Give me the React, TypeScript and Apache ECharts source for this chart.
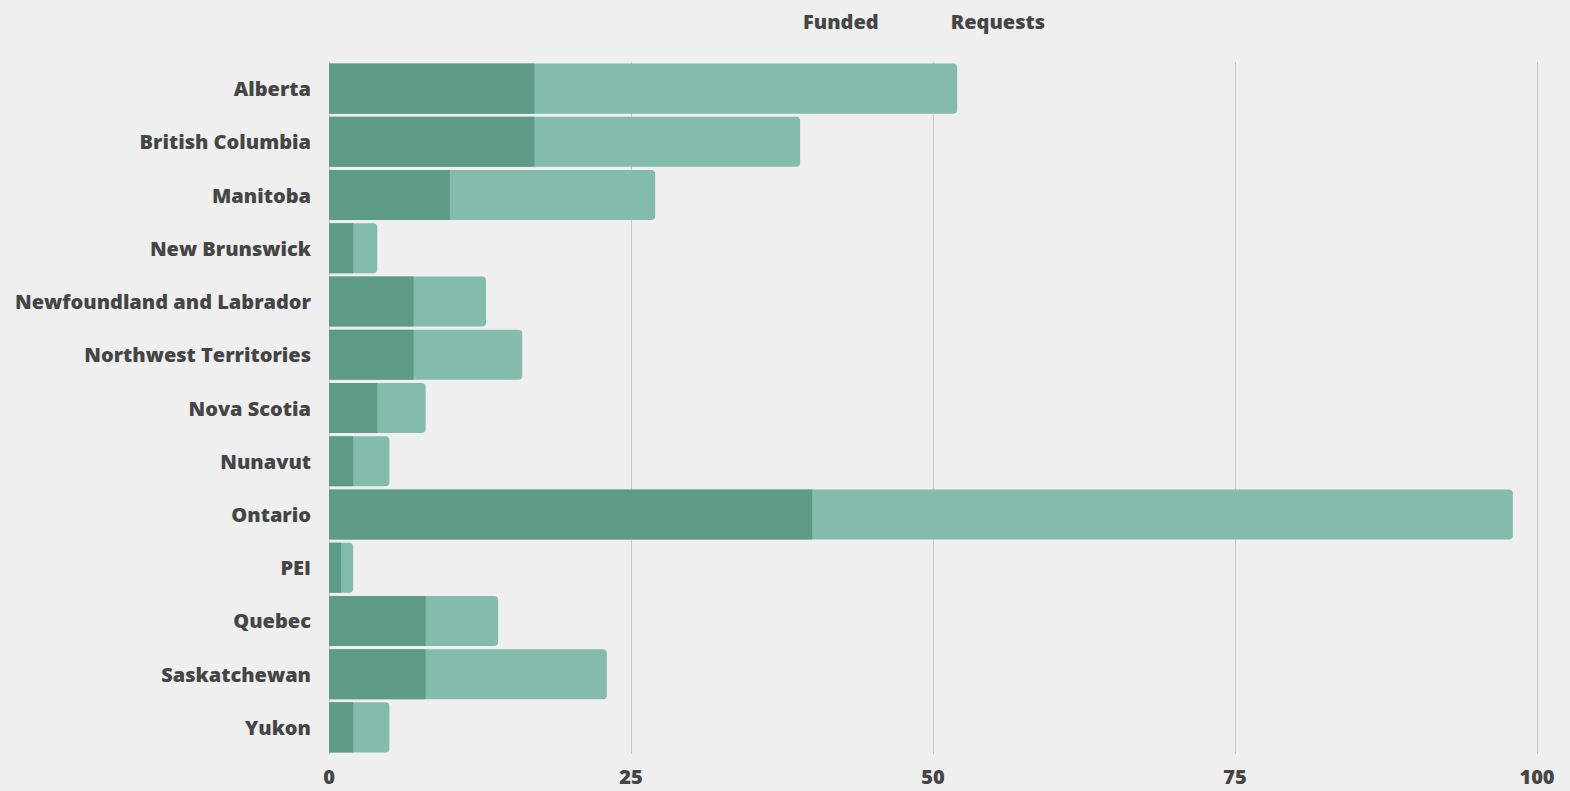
import React, { useEffect, useRef } from "react";
import * as echarts from "echarts";

const categories = [
  "Alberta",
  "British Columbia",
  "Manitoba",
  "New Brunswick",
  "Newfoundland and Labrador",
  "Northwest Territories",
  "Nova Scotia",
  "Nunavut",
  "Ontario",
  "PEI",
  "Quebec",
  "Saskatchewan",
  "Yukon",
];
const funded = [17, 17, 10, 2, 7, 7, 4, 2, 40, 1, 8, 8, 2];
const requests = [52, 39, 27, 4, 13, 16, 8, 5, 98, 2, 14, 23, 5];
const xTicks = [0, 25, 50, 75, 100];

const FONT = "'Open Sans', sans-serif";
const TEXT = "#454545";

export default function App() {
  const ref = useRef<HTMLDivElement>(null);
  useEffect(() => {
    document.body.style.margin = "0";
    document.body.style.background = "#efefef";
    if (!ref.current) return;
    const chart = echarts.init(ref.current, null, { renderer: "svg" });
    chart.setOption({
      animation: false,
      backgroundColor: "#efefef",
      legend: {
        left: 768,
        top: 6,
        itemWidth: 25,
        itemHeight: 14,
        itemGap: 42,
        data: [
          { name: "Funded", itemStyle: { opacity: 0 } },
          { name: "Requests", itemStyle: { opacity: 0 } },
        ],
        textStyle: { color: TEXT, fontFamily: FONT, fontWeight: 800, fontSize: 20 },
      },
      grid: { left: 329, right: 33, top: 62, bottom: 37, containLabel: false },
      xAxis: {
        type: "value",
        min: xTicks[0],
        max: xTicks[xTicks.length - 1],
        interval: 25,
        axisLine: { show: false },
        axisTick: { show: false },
        splitLine: { show: true, lineStyle: { color: "#c8c8c8", width: 1 } },
        axisLabel: {
          color: TEXT,
          fontFamily: FONT,
          fontWeight: 800,
          fontSize: 20,
          margin: 12,
        },
      },
      yAxis: {
        type: "category",
        data: categories,
        inverse: true,
        axisLine: { show: false },
        axisTick: { show: false },
        axisLabel: {
          color: TEXT,
          fontFamily: FONT,
          fontWeight: 800,
          fontSize: 20,
          margin: 18,
        },
      },
      series: [
        {
          name: "Requests",
          type: "bar",
          data: requests,
          barCategoryGap: "6%",
          itemStyle: { color: "#83bcae", borderRadius: [0, 4, 4, 0] },
        },
        {
          name: "Funded",
          type: "bar",
          data: funded,
          barGap: "-100%",
          barCategoryGap: "6%",
          itemStyle: { color: "#5d9b86" },
        },
      ],
    });
    return () => chart.dispose();
  }, []);
  return <div ref={ref} style={{ width: 1570, height: 791 }} />;
}
